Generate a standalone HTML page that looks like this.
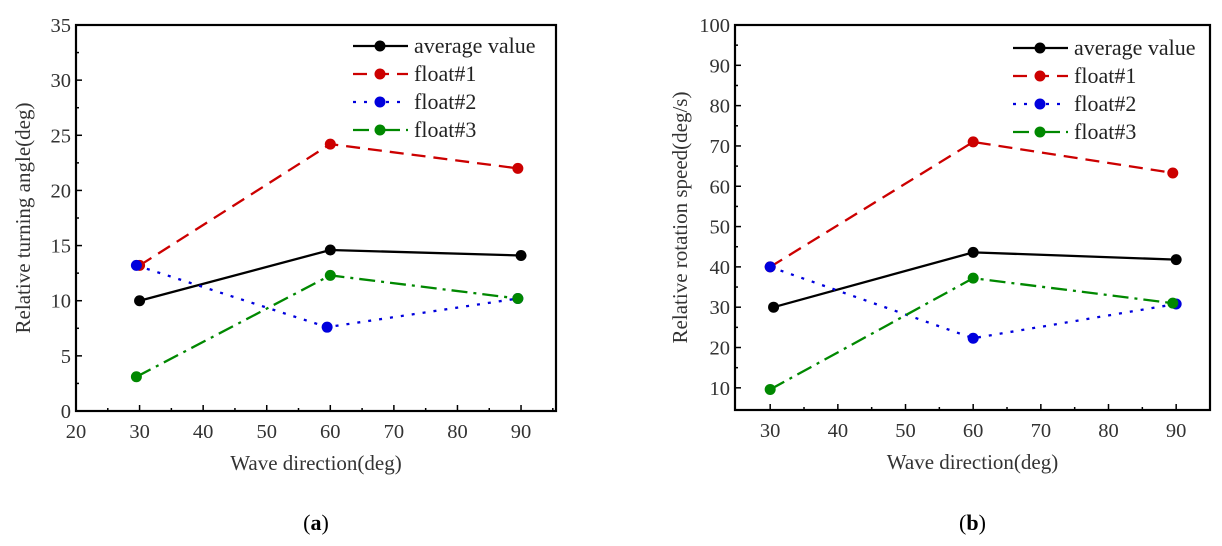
<!DOCTYPE html>
<html><head><meta charset="utf-8"><style>
html,body{margin:0;padding:0;background:#fff;}
svg{display:block;font-family:"Liberation Serif",serif;}
</style></head><body>
<svg id="s" width="1222" height="546" xmlns="http://www.w3.org/2000/svg"></svg>
<script>
const s=document.getElementById('s');let h='';
function chart(o){
 const X=v=>o.x0+(v-o.xmin)/(o.xmax-o.xmin)*(o.x1-o.x0);
 const Y=v=>o.y1-(v-o.ymin)/(o.ymax-o.ymin)*(o.y1-o.y0);
 h+=`<rect x="${o.x0}" y="${o.y0}" width="${o.x1-o.x0}" height="${o.y1-o.y0}" fill="none" stroke="#000" stroke-width="2.2"/>`;
 for(let v=o.xt0;v<=o.xt1;v+=10){const x=X(v);h+=`<line x1="${x}" y1="${o.y1}" x2="${x}" y2="${o.y1-6}" stroke="#000" stroke-width="1.5"/><text x="${x}" y="${o.y1+27}" font-size="20.5" text-anchor="middle" fill="#333">${v}</text>`;
  const m=X(v+5);if(v+5<o.xmax)h+=`<line x1="${m}" y1="${o.y1}" x2="${m}" y2="${o.y1-3}" stroke="#000" stroke-width="1.5"/>`;}
 for(let v=o.yt0;v<=o.yt1;v+=o.ys){const y=Y(v);h+=`<line x1="${o.x0}" y1="${y}" x2="${o.x0+6}" y2="${y}" stroke="#000" stroke-width="1.5"/><text x="${o.x0-5}" y="${y+7}" font-size="20.5" text-anchor="end" fill="#333">${v}</text>`;
  const m=Y(v+o.ys/2);if(v+o.ys/2<o.ymax)h+=`<line x1="${o.x0}" y1="${m}" x2="${o.x0+3}" y2="${m}" stroke="#000" stroke-width="1.5"/>`;}
 h+=`<text x="${(o.x0+o.x1)/2}" y="${o.y1+59}" font-size="21" text-anchor="middle" fill="#333">Wave direction(deg)</text>`;
 h+=`<text transform="translate(${o.ylx},${(o.y0+o.y1)/2}) rotate(-90)" font-size="21" text-anchor="middle" fill="#333">${o.ylab}</text>`;
 const st=[['#000',''],['#c00','14,8'],['#00d','3,8'],['#080','16,6,3,6']];
 o.series.forEach((d,i)=>{const pts=d.map(p=>X(p[0])+','+Y(p[1])).join(' ');
  h+=`<polyline points="${pts}" fill="none" stroke="${st[i][0]}" stroke-width="2.3" stroke-dasharray="${st[i][1]}"/>`;
  d.forEach(p=>h+=`<circle cx="${X(p[0])}" cy="${Y(p[1])}" r="5.5" fill="${st[i][0]}"/>`);
  const ly=o.ly+i*28;
  h+=`<line x1="${o.lx}" y1="${ly}" x2="${o.lx+55}" y2="${ly}" stroke="${st[i][0]}" stroke-width="2.3" stroke-dasharray="${st[i][1]}"/><circle cx="${o.lx+27}" cy="${ly}" r="5.5" fill="${st[i][0]}"/>`;
  h+=`<text x="${o.lx+61}" y="${ly+7}" font-size="22" fill="#222">${['average value','float#1','float#2','float#3'][i]}</text>`;});
 h+=`<text x="${(o.x0+o.x1)/2}" y="530" font-size="22" text-anchor="middle" fill="#000">(<tspan font-weight="bold">${o.cap}</tspan>)</text>`;
}
chart({x0:76,x1:556,y0:25,y1:411,xmin:20,xmax:95.5,ymin:0,ymax:35,xt0:20,xt1:90,yt0:0,yt1:35,ys:5,ylx:30,ylab:'Relative turning angle(deg)',lx:353,ly:46,cap:'a',
 series:[[[30,10],[60,14.6],[90,14.1]],[[30,13.2],[60,24.2],[89.5,22]],[[29.5,13.2],[59.5,7.6],[89.5,10.2]],[[29.5,3.1],[60,12.3],[89.5,10.2]]]});
chart({x0:735,x1:1210,y0:25,y1:410,xmin:24.8,xmax:95,ymin:4.5,ymax:100,xt0:30,xt1:90,yt0:10,yt1:100,ys:10,ylx:687,ylab:'Relative rotation speed(deg/s)',lx:1013,ly:48,cap:'b',
 series:[[[30.5,30],[60,43.6],[90,41.8]],[[30,40],[60,71],[89.5,63.3]],[[30,40],[60,22.3],[90,30.8]],[[30,9.6],[60,37.2],[89.5,31]]]});
s.innerHTML=h;
</script>
</body></html>
